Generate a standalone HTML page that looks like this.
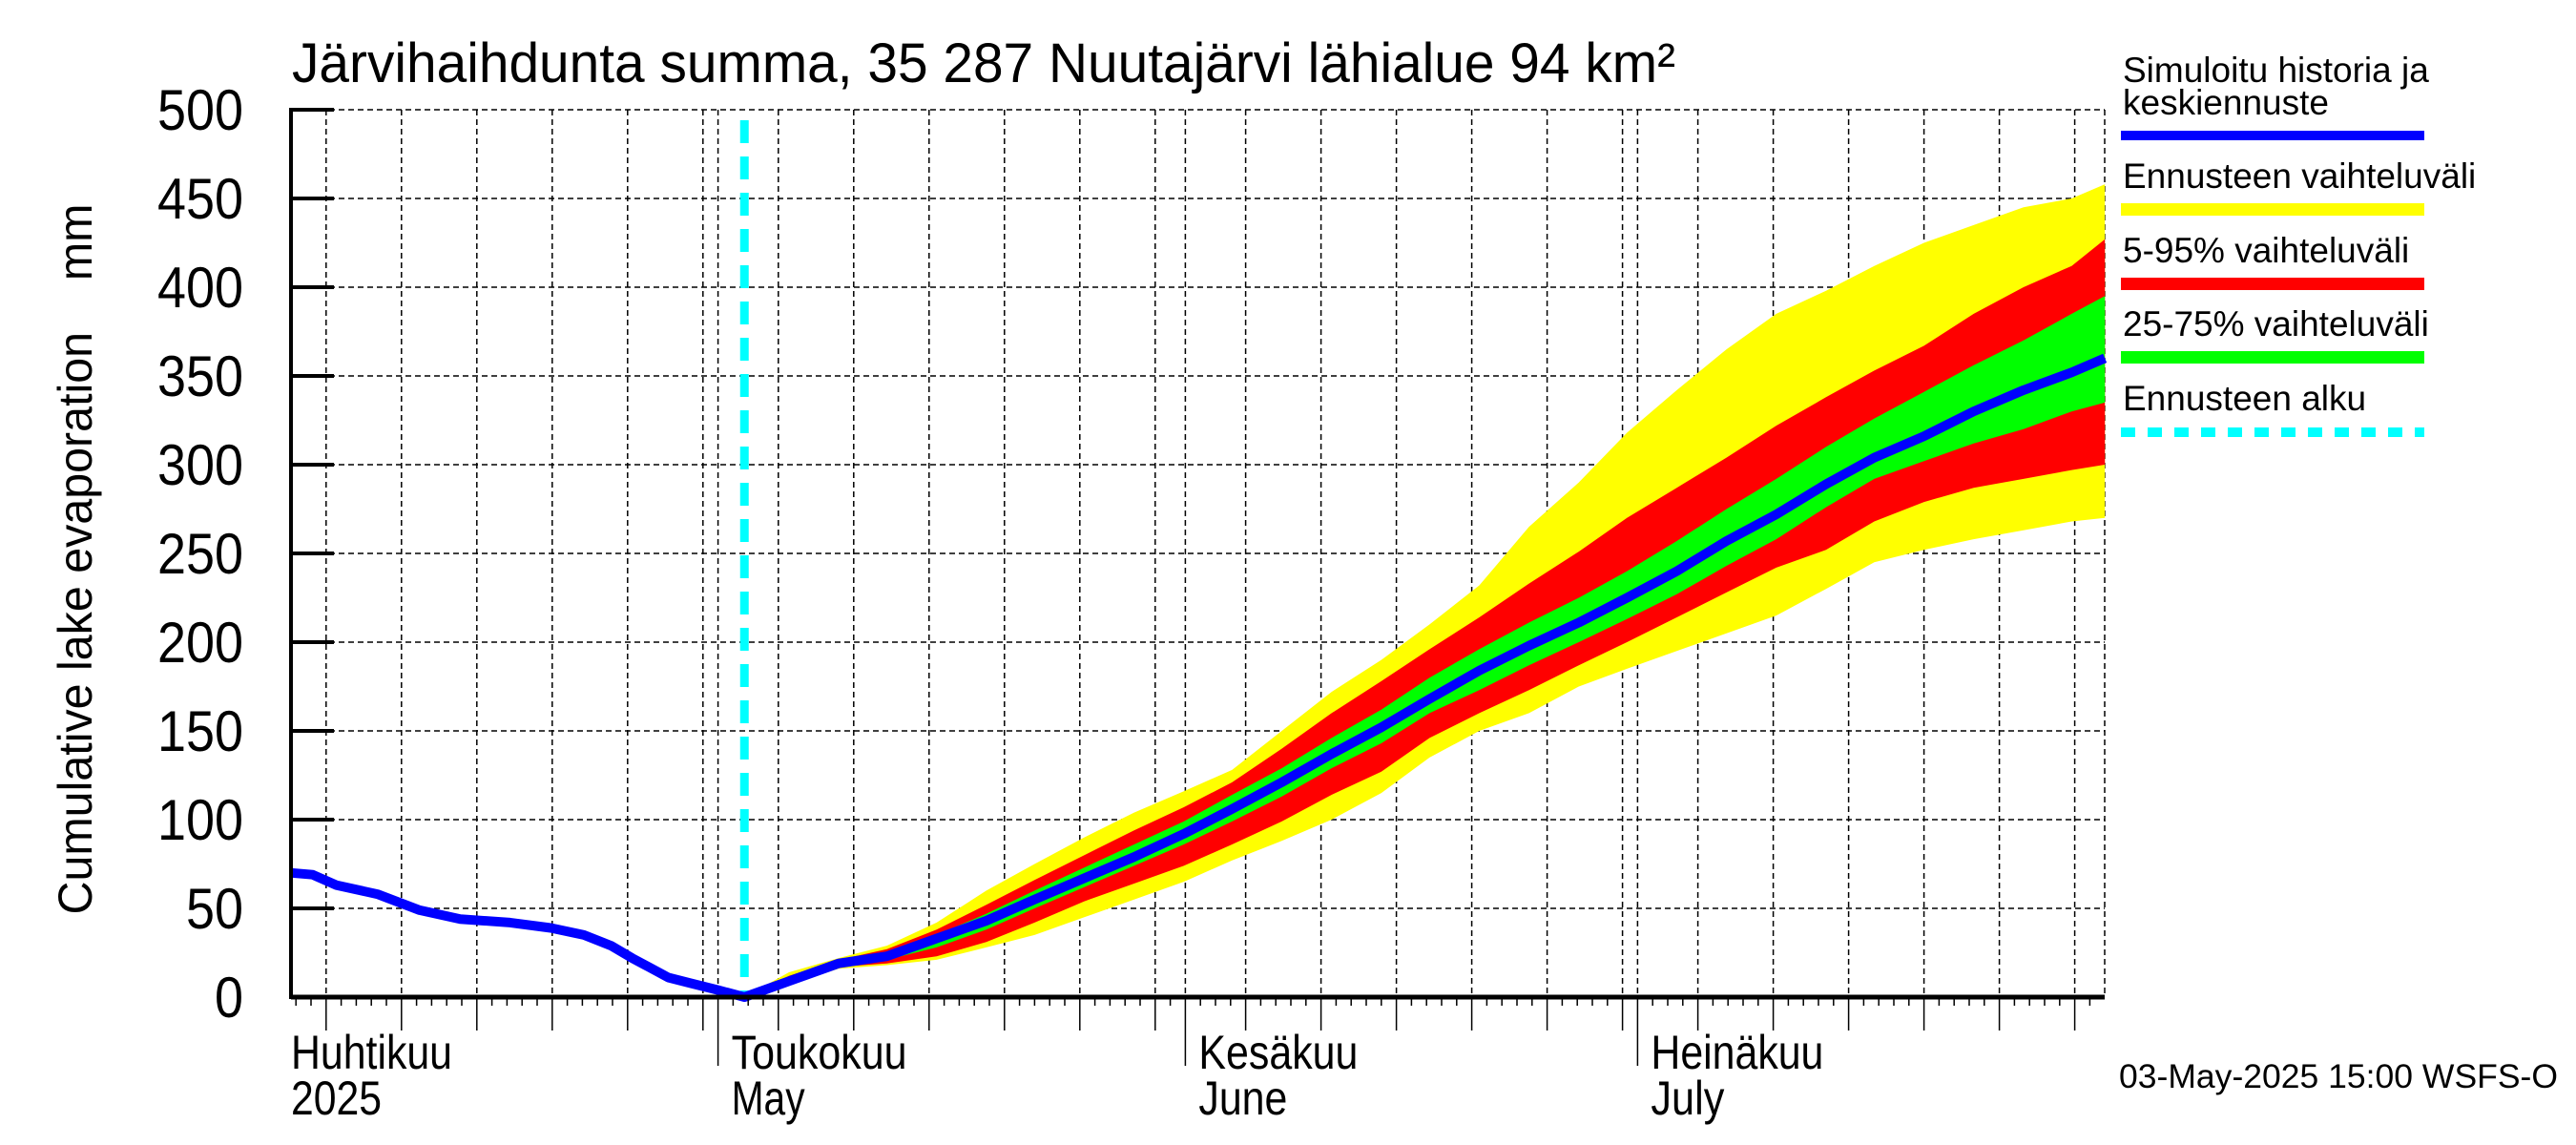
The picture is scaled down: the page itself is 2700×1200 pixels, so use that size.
<!DOCTYPE html>
<html><head><meta charset="utf-8"><style>
html,body{margin:0;padding:0;background:#fff;}
svg{display:block;font-family:"Liberation Sans",sans-serif;}
</style></head><body>
<svg id="chart" width="2700" height="1200" viewBox="0 0 2700 1200" xmlns="http://www.w3.org/2000/svg">
<text x="306" y="86" font-size="58" textLength="1450" lengthAdjust="spacingAndGlyphs">Järvihaihdunta summa, 35 287 Nuutajärvi lähialue 94 km²</text>
<text transform="translate(96,586) rotate(-90)" text-anchor="middle" font-size="50" textLength="745" lengthAdjust="spacingAndGlyphs" style="white-space:pre">Cumulative lake evaporation    mm</text>
<g id="grid"></g>
<g id="bands"></g>
<g id="lines"></g>
<g id="axes"></g>
<g font-size="37">
<text x="2225" y="86">Simuloitu historia ja</text>
<text x="2225" y="120">keskiennuste</text>
<rect x="2223" y="137" width="318" height="10" fill="#0000ff"/>
<text x="2225" y="197">Ennusteen vaihteluväli</text>
<rect x="2223" y="213" width="318" height="13" fill="#ffff00"/>
<text x="2225" y="275">5-95% vaihteluväli</text>
<rect x="2223" y="291" width="318" height="13" fill="#ff0000"/>
<text x="2225" y="352">25-75% vaihteluväli</text>
<rect x="2223" y="368" width="318" height="13" fill="#00ff00"/>
<text x="2225" y="430">Ennusteen alku</text>
<line x1="2223" y1="453" x2="2541" y2="453" stroke="#00ffff" stroke-width="10" stroke-dasharray="15 13"/>
</g>
<text x="2221" y="1140" font-size="35" textLength="460" lengthAdjust="spacingAndGlyphs">03-May-2025 15:00 WSFS-O</text>
</svg>
<script>
// day offsets relative to 1 May 2025
const histDays = [-28.3,-26.9,-25.3,-22.6,-19.8,-17.1,-13.8,-11.1,-8.9,-7.1,-5.7,-4.6,-3.3,-1.9,0,1.75];
const histVals = [70,69,63,58,49,44,42,39,35,29,22,17,11,8,4,0];
const fcDays = [1.75,4.7,8.0,11.2,14.5,17.8,21.0,24.3,27.6,30.9,34.1,37.4,40.7,44.0,47.2,50.5,53.8,57.1,60.3,63.6,66.9,70.2,73.5,76.7,80.0,83.3,86.6,89.8,92];
const median = [0,9,19,23,33,43,55,67,79,92,106,121,137,152,168,184,198,211,225,240,257,272,289,304,316,330,342,352,360];
const minVals = [0,7,16,18,21,28,35,45,55,65,77,88,100,115,135,150,160,175,185,195,205,215,230,245,252,258,263,268,270];
const p5 = [0,8,17,19,23,31,42,54,64,74,86,99,114,127,146,160,173,187,200,214,228,242,252,268,279,287,292,297,300];
const p25 = [0,9,18,21,28,38,50,62,74,86,99,113,129,143,160,173,187,200,213,227,243,258,276,292,302,312,320,330,335];
const p75 = [0,11,20,25,35,47,60,73,86,99,114,129,146,162,180,196,211,225,240,257,275,292,310,326,341,356,370,385,395];
const p95 = [0,12,21,27,38,52,66,80,94,107,121,140,160,178,196,214,233,251,270,287,304,322,338,353,367,385,400,412,427];
const maxVals = [0,14,22,29,42,60,75,90,104,116,128,150,172,190,210,232,265,290,318,342,365,385,398,412,425,435,445,450,458];
const forecastStart = 1.75;
const yTicks = [0,50,100,150,200,250,300,350,400,450,500];
const monthStarts = [-30,0,31,61,92];
const monthNames = ["Huhtikuu","Toukokuu","Kesäkuu","Heinäkuu"];
const monthNames2 = ["2025","May","June","July"];

const NS="http://www.w3.org/2000/svg";
const X0=752.6, PXD=15.8, LEFT=305, RIGHT=2206, TOP=115, BOT=1045;
const xs=d=>X0+d*PXD;
const ys=v=>BOT-(v/500)*(BOT-TOP);
const lenA=[169,184,167,181], lenB=[95,77,93,77];
function mk(parent,tag,attrs){const e=document.createElementNS(NS,tag);for(const k in attrs)e.setAttribute(k,attrs[k]);parent.appendChild(e);return e;}
const grid=document.getElementById('grid'),bands=document.getElementById('bands'),lines=document.getElementById('lines'),axes=document.getElementById('axes');

yTicks.forEach(v=>{
  if(v>0){const g=mk(grid,'line',{x1:LEFT,x2:RIGHT,y1:ys(v),y2:ys(v),stroke:'#000','stroke-width':1.5,'stroke-dasharray':'6 4'});
  
  }
  const t=mk(axes,'line',{x1:LEFT,x2:LEFT+45,y1:ys(v),y2:ys(v),stroke:'#000','stroke-width':4});
  
  
  const l=mk(axes,'text',{x:255,y:ys(v)+21,'text-anchor':'end','font-size':60,textLength:String(v).length*30,lengthAdjust:'spacingAndGlyphs'});
  l.textContent=v;
  
  
});
for(let m=0;m<4;m++){
  const s=monthStarts[m], len=monthStarts[m+1]-s;
  for(let dom=1;dom<=len;dom++){
    const d=s+dom-1, x=xs(d);
    if(x<LEFT-0.5||x>RIGHT+0.5) continue;
    const major=(dom%5===0&&dom<=30)||dom===1;
    let tl=9;
    if(dom===1) tl=72; else if(dom%5===0&&dom<=30) tl=35;
    const t=mk(axes,'line',{x1:x,x2:x,y1:BOT,y2:BOT+tl,stroke:'#000','stroke-width':1.5});
    
    
    if(major){const g=mk(grid,'line',{x1:x,x2:x,y1:TOP,y2:BOT,stroke:'#000','stroke-width':1.5,'stroke-dasharray':'6 4'});
    
    }
  }
}
{const g=mk(grid,'line',{x1:RIGHT,x2:RIGHT,y1:TOP,y2:BOT,stroke:'#000','stroke-width':1.5,'stroke-dasharray':'6 4'});

}
for(let m=0;m<4;m++){
  const x=m===0?LEFT:xs(monthStarts[m])+14;
  const a=mk(axes,'text',{x:x,y:1120,'font-size':50,textLength:lenA[m],lengthAdjust:'spacingAndGlyphs'});
  a.textContent=monthNames[m];
  
  
  const b=mk(axes,'text',{x:x,y:1168,'font-size':50,textLength:lenB[m],lengthAdjust:'spacingAndGlyphs'});
  b.textContent=monthNames2[m];
  
  
}
function band(lo,hi,color,name){
  let p='';
  fcDays.forEach((d,i)=>{p+=(i?'L':'M')+xs(d).toFixed(1)+','+ys(hi[i]).toFixed(1);});
  for(let i=fcDays.length-1;i>=0;i--)p+='L'+xs(fcDays[i]).toFixed(1)+','+ys(lo[i]).toFixed(1);
  const e=mk(bands,'path',{d:p+'Z',fill:color});
  
  
}
band(minVals,maxVals,'#ffff00','band-min-max');
band(p5,p95,'#ff0000','band-5-95');
band(p25,p75,'#00ff00','band-25-75');
{const c=mk(lines,'line',{x1:xs(forecastStart),x2:xs(forecastStart),y1:126,y2:BOT,stroke:'#00ffff','stroke-width':9,'stroke-dasharray':'24 14'});

}
{let p='';
histDays.forEach((d,i)=>{p+=(i?'L':'M')+xs(d).toFixed(1)+','+ys(histVals[i]).toFixed(1);});
fcDays.forEach((d,i)=>{p+='L'+xs(d).toFixed(1)+','+ys(median[i]).toFixed(1);});
const e=mk(lines,'path',{d:p,fill:'none',stroke:'#0000ff','stroke-width':10,'stroke-linejoin':'round'});

}
{const a=mk(axes,'line',{x1:LEFT,x2:LEFT,y1:TOP-2,y2:BOT+2,stroke:'#000','stroke-width':4});


const b=mk(axes,'line',{x1:LEFT,x2:RIGHT,y1:BOT,y2:BOT,stroke:'#000','stroke-width':5});

}
</script>
</body></html>
